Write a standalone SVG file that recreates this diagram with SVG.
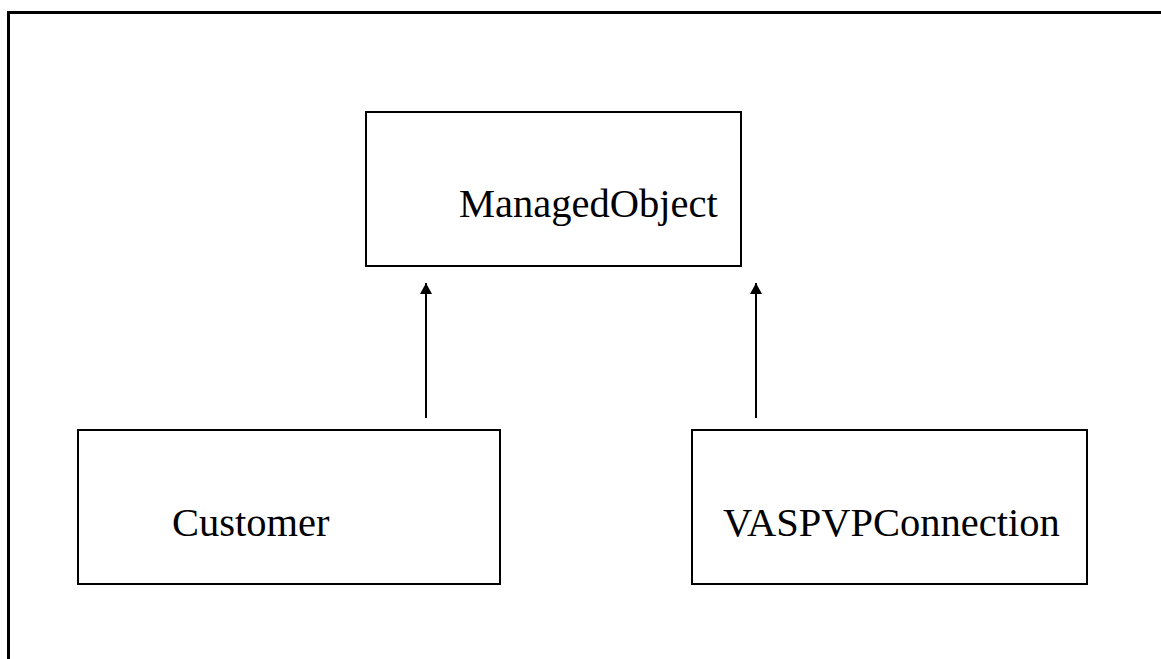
<svg xmlns="http://www.w3.org/2000/svg" width="1161" height="659" viewBox="0 0 1161 659">
  <style>
    .box { fill: #ffffff; stroke: #000000; stroke-width: 2; }
    .label { font-family: "Liberation Serif", "Times New Roman", serif; font-size: 40.5px; fill: #000000; }
    .link { stroke: #000000; stroke-width: 2; fill: none; }
    .frame { stroke: #000000; stroke-width: 3; fill: none; }
  </style>
  <defs>
    <marker id="arrow" viewBox="0 0 11 12" refX="11" refY="6" markerWidth="11" markerHeight="12" markerUnits="userSpaceOnUse" orient="auto">
      <path d="M0,0 L11,6 L0,12 Z" fill="#000000"/>
    </marker>
  </defs>
  <rect width="1161" height="659" fill="#ffffff"/>

  <!-- outer frame: only the top and left edges are visible -->
  <path class="frame" d="M8.5,659 L8.5,12.5 L1161,12.5"/>

  <g id="managed-object">
    <rect class="box" x="366" y="112" width="375" height="154"/>
    <text class="label" x="459" y="217">ManagedObject</text>
  </g>

  <g id="customer">
    <rect class="box" x="78" y="430" width="422" height="154"/>
    <text class="label" x="172" y="536">Customer</text>
  </g>

  <g id="vaspvp-connection">
    <rect class="box" x="692" y="430" width="395" height="154"/>
    <text class="label" x="723" y="536">VASPVPConnection</text>
  </g>

  <g id="connectors">
    <line class="link" x1="426" y1="418" x2="426" y2="283" marker-end="url(#arrow)"/>
    <line class="link" x1="756" y1="418" x2="756" y2="283" marker-end="url(#arrow)"/>
  </g>
</svg>
